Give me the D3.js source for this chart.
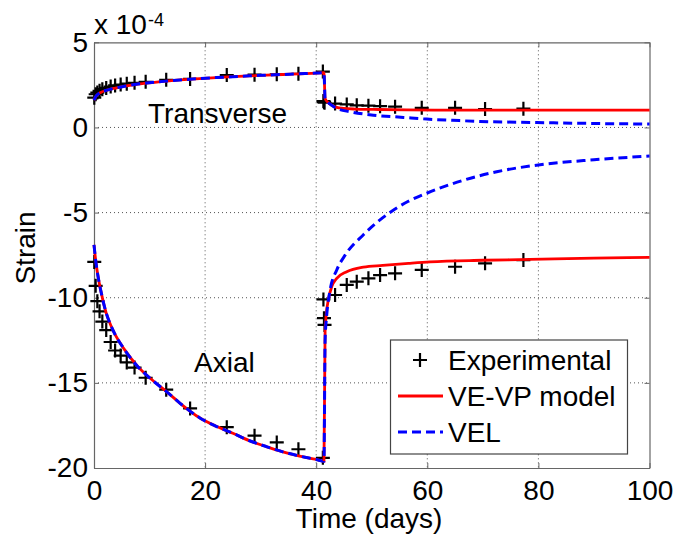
<!DOCTYPE html>
<html>
<head>
<meta charset="utf-8">
<script src="https://cdn.jsdelivr.net/npm/d3@7"></script>
<style>
  body { margin: 0; background: #fff; }
  svg text { font-family: "Liberation Sans", Arial, sans-serif; fill: #000; }
</style>
</head>
<body>
<svg id="chart" width="673" height="539"></svg>
<script>
// experimental points (strain in units of 1e-4)
var expLoadTime = [0.05, 0.3, 0.6, 1.0, 1.5, 2.2, 3.0, 3.8, 4.8, 5.9, 7.3, 9.3, 13.0, 17.3, 23.9, 28.9, 32.9, 36.8, 41.2];
var expAxialLoad = [-7.9, -9.3, -10.2, -10.8, -11.4, -11.9, -12.6, -13.1, -13.4, -13.8, -14.1, -14.7, -15.4, -16.5, -17.6, -18.1, -18.5, -18.9, -19.4];
var expTransLoad = [1.75, 1.95, 2.05, 2.15, 2.25, 2.32, 2.4, 2.47, 2.52, 2.57, 2.62, 2.68, 2.8, 2.85, 3.08, 3.1, 3.12, 3.15, 3.28];
var expUnloadTime = [41.3, 41.4, 41.5, 43.4, 45.5, 47.3, 49.4, 51.5, 54.2, 59, 65, 70.4, 77.3];
var expAxialUnload = [-10.1, -11.2, -11.6, -9.84, -9.25, -9.06, -8.86, -8.67, -8.57, -8.37, -8.18, -7.98, -7.79];
var expTransUnload = [1.55, 1.5, 1.45, 1.4, 1.35, 1.3, 1.28, 1.25, 1.22, 1.15, 1.15, 1.08, 1.1];

// model curves, loading part (both models coincide)
var modelLoadTime = [0, 0.3, 0.7, 1.3, 2.2, 3, 3.7, 5.5, 7.9, 10.9, 13, 15.5, 19, 22, 25, 28, 31, 34, 37, 40, 41.4];
var modelAxialLoad = [-6.9, -7.8, -8.7, -9.7, -10.9, -11.6, -12.1, -13.05, -14.05, -14.95, -15.5, -16.2, -17.05, -17.55, -17.96, -18.4, -18.74, -19.05, -19.3, -19.5, -19.6];
var modelTransLoad = [1.6, 1.8, 1.95, 2.07, 2.18, 2.25, 2.3, 2.42, 2.55, 2.65, 2.72, 2.79, 2.87, 2.93, 2.98, 3.03, 3.07, 3.11, 3.15, 3.19, 3.22];

// VE-VP model, unloading
var vevpAxialUnloadTime = [41.6, 41.8, 42.2, 42.8, 43.7, 45.5, 48.5, 52, 56.6, 60.5, 70, 78.5, 90, 100];
var vevpAxialUnload = [-12, -11, -10.1, -9.35, -8.86, -8.47, -8.2, -8.1, -7.98, -7.89, -7.8, -7.75, -7.68, -7.63];
var vevpTransUnloadTime = [41.6, 42.2, 42.8, 43.7, 44.9, 47, 50.3, 56.3, 65, 80, 100];
var vevpTransUnload = [1.7, 1.45, 1.3, 1.18, 1.12, 1.08, 1.06, 1.03, 1.02, 1.02, 1.02];

// VEL model, unloading
var velAxialUnloadTime = [41.6, 41.9, 42.5, 43.7, 45.2, 48.5, 52, 56.5, 60, 66.5, 72.5, 80, 90, 100];
var velAxialUnload = [-12.5, -11, -9.55, -8.37, -7.5, -6.3, -5.3, -4.35, -3.85, -3.1, -2.6, -2.2, -1.9, -1.68];
var velTransUnloadTime = [41.6, 41.9, 42.8, 43.7, 46.1, 48.5, 50.3, 55.7, 59.9, 64.5, 69.5, 79.7, 90.5, 100];
var velTransUnload = [1.7, 1.55, 1.3, 1.12, 0.92, 0.79, 0.72, 0.59, 0.49, 0.42, 0.35, 0.29, 0.23, 0.2];

var xTicks = [0, 20, 40, 60, 80, 100];
var yTicks = [-20, -15, -10, -5, 0, 5];
var legendLabels = ['Experimental', 'VE-VP model', 'VEL'];

var svg = d3.select('#chart');
var plotLeft = 94, plotRight = 649.5, plotTop = 42.3, plotBottom = 468;

var x = d3.scaleLinear().domain([0, 100]).range([plotLeft, plotRight]);
var y = d3.scaleLinear().domain([-20, 5]).range([plotBottom, plotTop]);

function zip(ts, vs) { return ts.map(function(t, i) { return [t, vs[i]]; }); }

// grid
var grid = svg.append('g').attr('stroke', '#555').attr('stroke-width', 1).attr('stroke-dasharray', '1,3');
grid.selectAll('.gx').data(xTicks.slice(1, -1)).join('line')
    .attr('x1', d => x(d)).attr('x2', d => x(d)).attr('y1', plotTop).attr('y2', plotBottom);
grid.selectAll('.gy').data(yTicks.slice(1, -1)).join('line')
    .attr('y1', d => y(d)).attr('y2', d => y(d)).attr('x1', plotLeft).attr('x2', plotRight);

// axes
function styleAxis(g) {
    g.selectAll('.domain').attr('stroke', '#666').attr('stroke-width', 1.2);
    g.selectAll('.tick line').attr('stroke', '#666');
    g.selectAll('.tick text').attr('font-size', 28).attr('font-family', '"Liberation Sans", Arial, sans-serif');
}
svg.append('g').attr('transform', 'translate(0,' + plotBottom + ')')
    .call(d3.axisBottom(x).tickValues(xTicks).tickSizeInner(-5).tickSizeOuter(0).tickPadding(12))
    .call(styleAxis);
svg.append('g').attr('transform', 'translate(0,' + plotTop + ')')
    .call(d3.axisTop(x).tickValues(xTicks).tickSizeInner(-5).tickSizeOuter(0).tickFormat(''))
    .call(styleAxis);
svg.append('g').attr('transform', 'translate(' + plotLeft + ',0)')
    .call(d3.axisLeft(y).tickValues(yTicks).tickSizeInner(-5).tickSizeOuter(0).tickPadding(6)
        .tickFormat(d => d < 0 ? '-' + Math.abs(d) : d))
    .call(styleAxis);
svg.append('g').attr('transform', 'translate(' + plotRight + ',0)')
    .call(d3.axisRight(y).tickValues(yTicks).tickSizeInner(-5).tickSizeOuter(0).tickFormat(''))
    .call(styleAxis);

// lines
var line = d3.line().x(d => x(d[0])).y(d => y(d[1])).curve(d3.curveMonotoneX);
var loadAxial = zip(modelLoadTime, modelAxialLoad);
var loadTrans = zip(modelLoadTime, modelTransLoad);
var vevpCurves = [loadAxial.concat(zip(vevpAxialUnloadTime, vevpAxialUnload)),
                  loadTrans.concat(zip(vevpTransUnloadTime, vevpTransUnload))];
var velCurves = [loadAxial.concat(zip(velAxialUnloadTime, velAxialUnload)),
                 loadTrans.concat(zip(velTransUnloadTime, velTransUnload))];

// experimental crosses
var cross = 'M-7,0H7M0,-7V7';
var expPoints = zip(expLoadTime, expAxialLoad).concat(zip(expLoadTime, expTransLoad),
    zip(expUnloadTime, expAxialUnload), zip(expUnloadTime, expTransUnload));
svg.selectAll('.exp').data(expPoints).join('path')
    .attr('class', 'exp')
    .attr('d', cross)
    .attr('transform', d => 'translate(' + x(d[0]) + ',' + y(d[1]) + ')')
    .attr('stroke', '#000').attr('stroke-width', 2.2).attr('fill', 'none');

svg.selectAll('.vevp').data(vevpCurves).join('path')
    .attr('class', 'vevp').attr('d', line)
    .attr('fill', 'none').attr('stroke', '#ff0000').attr('stroke-width', 2.8);
svg.selectAll('.vel').data(velCurves).join('path')
    .attr('class', 'vel').attr('d', line)
    .attr('fill', 'none').attr('stroke', '#0000ff').attr('stroke-width', 3)
    .attr('stroke-dasharray', '9,5');

// annotations
svg.append('text').attr('x', 148).attr('y', 123).attr('font-size', 28).text('Transverse');
svg.append('text').attr('x', 194).attr('y', 372).attr('font-size', 28).text('Axial');
svg.append('text').attr('x', 94).attr('y', 34).attr('font-size', 28).text('x 10');
svg.append('text').attr('x', 148).attr('y', 26).attr('font-size', 18).text('-4');
svg.append('text').attr('x', 369).attr('y', 528).attr('font-size', 28).attr('text-anchor', 'middle').text('Time (days)');
svg.append('text').attr('transform', 'translate(35,248) rotate(-90)').attr('font-size', 28)
    .attr('text-anchor', 'middle').text('Strain');

// legend
var lg = svg.append('g');
lg.append('rect').attr('x', 390.5).attr('y', 340).attr('width', 237).attr('height', 114)
    .attr('fill', '#fff').attr('stroke', '#444').attr('stroke-width', 1.2);
var rowY = [360, 396, 432];
lg.selectAll('.lt').data(legendLabels).join('text')
    .attr('x', 448).attr('y', (d, i) => rowY[i] + 10).attr('font-size', 28).text(d => d);
lg.append('path').attr('d', cross).attr('transform', 'translate(420,' + rowY[0] + ')')
    .attr('stroke', '#000').attr('stroke-width', 2.2);
lg.append('line').attr('x1', 398).attr('x2', 443).attr('y1', rowY[1]).attr('y2', rowY[1])
    .attr('stroke', '#ff0000').attr('stroke-width', 2.8);
lg.append('line').attr('x1', 398).attr('x2', 443).attr('y1', rowY[2]).attr('y2', rowY[2])
    .attr('stroke', '#0000ff').attr('stroke-width', 3).attr('stroke-dasharray', '9,5');
</script>
</body>
</html>
